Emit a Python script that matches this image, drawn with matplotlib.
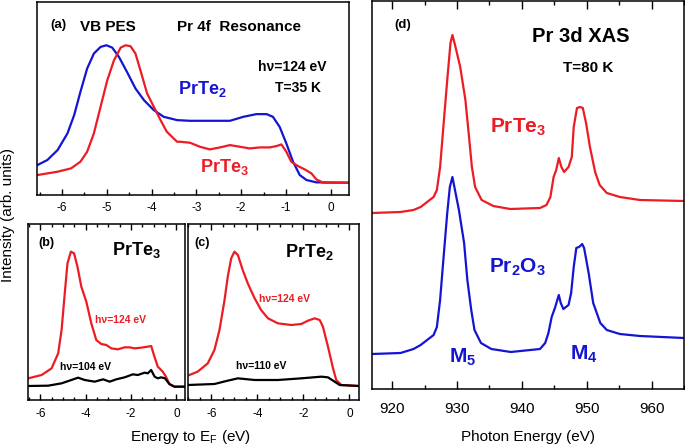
from matplotlib import pyplot as plt
from matplotlib import ticker

RED = "#ec1c24"
BLUE = "#1414d2"
FONT = "Liberation Sans"

# (a) VB PES, Pr 4f resonance
A_PRTE2_E = [-6.55, -6.33, -6.10, -5.88, -5.73, -5.59, -5.44, -5.29, -5.14, -5.01, -4.88, -4.73, -4.55,
             -4.36, -4.17, -3.95, -3.73, -3.43, -3.14, -2.70, -2.25, -1.95, -1.66, -1.43, -1.29, -1.14,
             -0.99, -0.84, -0.69, -0.54, -0.32, 0.42]
A_PRTE2_I = [90, 105, 135, 185, 240, 310, 380, 425, 445, 450, 443, 415, 370,
             320, 285, 255, 235, 225, 223, 223, 223, 235, 243, 243, 235, 205,
             155, 100, 60, 45, 38, 37]
A_PRTE3_E = [-6.55, -6.10, -5.80, -5.59, -5.44, -5.29, -5.14, -4.99, -4.84, -4.69, -4.58, -4.47, -4.36,
             -4.25, -4.10, -3.95, -3.80, -3.66, -3.43, -3.36, -3.14, -2.92, -2.70, -2.47, -2.25, -2.03,
             -1.81, -1.58, -1.36, -1.21, -1.10, -0.99, -0.88, -0.73, -0.58, -0.43, -0.32, -0.17, 0.42]
A_PRTE3_I = [60, 70, 80, 100, 130, 185, 265, 345, 405, 443, 450, 447, 425,
             375, 305, 265, 225, 190, 160, 160, 157, 145, 137, 143, 150, 145,
             140, 143, 143, 147, 152, 130, 100, 87, 77, 65, 47, 37, 37]

# (b) PrTe3 at two photon energies
B_124_E = [-6.53, -5.94, -5.50, -5.21, -5.06, -4.92, -4.80, -4.65, -4.51, -4.36, -4.19, -3.97, -3.75,
           -3.53, -3.31, -3.09, -2.87, -2.58, -2.28, -2.06, -1.84, -1.55, -1.26, -1.11, -0.99, -0.82,
           -0.60, -0.46, -0.31, -0.09, 0.35]
B_124_I = [65, 75, 95, 140, 210, 320, 410, 445, 440, 400, 340, 295, 230,
           180, 168, 165, 155, 152, 158, 158, 155, 157, 160, 162, 135, 100,
           85, 70, 48, 40, 40]
B_104_E = [-6.53, -5.65, -5.06, -4.63, -4.33, -4.04, -3.60, -3.23, -2.94, -2.65, -2.28, -1.92, -1.70,
           -1.40, -1.26, -1.11, -0.96, -0.82, -0.67, -0.50, -0.31, -0.09, 0.35]
B_104_I = [42, 43, 50, 60, 67, 60, 55, 62, 55, 62, 68, 77, 75,
           82, 80, 90, 70, 65, 68, 65, 48, 40, 40]

# (c) PrTe2 at two photon energies
C_124_E = [-6.96, -6.60, -6.16, -5.87, -5.65, -5.43, -5.29, -5.14, -5.00, -4.85, -4.64, -4.42, -4.12,
           -3.84, -3.54, -3.11, -2.53, -2.09, -1.80, -1.51, -1.29, -1.15, -0.93, -0.71, -0.57, -0.35,
           0.42]
C_124_I = [75, 85, 110, 150, 210, 300, 370, 425, 445, 435, 390, 350, 305,
           270, 245, 230, 225, 228, 238, 245, 240, 220, 160, 95, 60, 45,
           42]
C_110_E = [-7.02, -5.87, -5.29, -4.85, -4.12, -3.11, -2.09, -1.22, -0.93, -0.64, -0.42, 0.42]
C_110_I = [45, 48, 58, 65, 60, 60, 65, 70, 68, 55, 45, 42]

# (d) Pr 3d XAS
D_PRTE3_E = [916.9, 921.3, 923.3, 924.4, 925.4, 926.4, 926.9, 927.4, 927.9, 928.5, 929.0, 929.3, 929.7,
             930.5, 931.3, 931.8, 932.3, 932.8, 933.8, 935.6, 938.2, 942.8, 943.8, 944.4, 944.9, 945.3,
             945.7, 946.1, 946.5, 947.2, 947.7, 948.0, 948.5, 949.0, 949.4, 949.9, 950.5, 951.3, 952.0,
             953.1, 955.1, 958.2, 965.0]
D_PRTE3_I = [176, 177, 179, 182, 187, 192, 199, 222, 262, 309, 346, 354, 344,
             322, 289, 256, 222, 202, 189, 183, 180, 181, 184, 192, 212, 219,
             231, 222, 217, 222, 232, 262, 281, 282, 281, 266, 242, 217, 204,
             196, 192, 189, 188]
D_PR2O3_E = [916.9, 921.3, 923.3, 924.4, 925.4, 926.4, 926.9, 927.4, 927.9, 928.5, 928.9, 929.3, 929.6,
             930.3, 931.1, 931.6, 932.2, 932.7, 933.7, 935.3, 938.3, 942.8, 943.6, 944.1, 944.6, 945.1,
             945.7, 946.0, 946.4, 947.2, 947.6, 948.0, 948.4, 948.8, 949.0, 949.3, 949.6, 950.3, 951.0,
             952.1, 953.1, 955.1, 958.2, 965.0]
D_PR2O3_I = [35, 36, 40, 44, 49, 54, 62, 89, 129, 176, 202, 212, 202,
             179, 146, 109, 79, 59, 46, 40, 37, 40, 46, 56, 72, 81,
             94, 86, 80, 84, 96, 122, 141, 142, 143, 145, 141, 116, 86,
             66, 59, 55, 53, 51]

plt.rcParams.update({
    "font.family": FONT,
    "mathtext.fontset": "custom",
    "mathtext.rm": FONT,
    "mathtext.bf": FONT + ":bold",
    "axes.linewidth": 1.1,
})

fig = plt.figure(figsize=(6.85, 4.48), dpi=100)
W, H = 685, 448


def add_axes(left, top, right, bottom):
    return fig.add_axes([left / W, 1 - bottom / H, (right - left) / W, (bottom - top) / H])


def style(ax, xlim, ylim, major, minor, size, pad, top=True, big=False):
    ax.set_xlim(*xlim)
    ax.set_ylim(*ylim)
    ax.set_yticks([])
    ax.xaxis.set_major_locator(ticker.MultipleLocator(major))
    ax.xaxis.set_minor_locator(ticker.MultipleLocator(minor))
    ax.tick_params(axis="x", which="both", direction="in", top=top, labelsize=size, pad=pad, width=1)
    ax.tick_params(axis="x", which="major", length=6 if big else 4)
    ax.tick_params(axis="x", which="minor", length=3 if big else 2.5)


def txt(ax, x, y, s, size, color="black", **kw):
    ax.text(x, y, s, fontsize=size, color=color, fontweight="bold", va="center", ha="left", **kw)


LW = 1.6
neg = ticker.FuncFormatter(lambda v, p: f"{v:.0f}" if v >= 0 else f"-{-v:.0f}")

# (a)
ax = add_axes(37, 2, 349, 195)
ax.plot(A_PRTE2_E, A_PRTE2_I, color=BLUE, lw=LW)
ax.plot(A_PRTE3_E, A_PRTE3_I, color=RED, lw=LW)
style(ax, (-6.56, 0.41), (0, 580), 1, 0.5, 8.5, 5, top=False)
ax.xaxis.set_major_formatter(neg)
txt(ax, -6.26, 510, "(a)", 9.5)
txt(ax, -5.59, 505, "VB PES", 11)
txt(ax, -3.44, 505, "Pr 4f  Resonance", 11)
ax.text(-0.85, 385, "h\u03bd=124 eV", fontsize=10, fontweight="bold", ha="center", va="center")
ax.text(-0.73, 323, "T=35 K", fontsize=10, fontweight="bold", ha="center", va="center")
txt(ax, -3.40, 318, r"PrTe$_\mathbf{2}$", 13, BLUE)
txt(ax, -2.92, 85, r"PrTe$_\mathbf{3}$", 13, RED)

# (b)
ax = add_axes(28, 224, 185, 400)
ax.plot(B_124_E, B_124_I, color=RED, lw=LW)
ax.plot(B_104_E, B_104_I, color="black", lw=LW)
style(ax, (-6.54, 0.38), (0, 528), 2, 0.5, 8.5, 6)
ax.xaxis.set_major_formatter(neg)
txt(ax, -6.07, 470, "(b)", 9)
txt(ax, -2.85, 450, r"PrTe$_\mathbf{3}$", 13)
txt(ax, -3.59, 240, "h\u03bd=124 eV", 7.5, RED)
txt(ax, -5.12, 100, "h\u03bd=104 eV", 7.5)

# (c)
ax = add_axes(188, 224, 359, 400)
ax.plot(C_124_E, C_124_I, color=RED, lw=LW)
ax.plot(C_110_E, C_110_I, color="black", lw=LW)
style(ax, (-7.02, 0.42), (0, 528), 2, 0.5, 8.5, 6)
ax.xaxis.set_major_formatter(neg)
txt(ax, -6.73, 470, "(c)", 9)
txt(ax, -2.80, 445, r"PrTe$_\mathbf{2}$", 13)
txt(ax, -3.92, 302, "h\u03bd=124 eV", 7.5, RED)
txt(ax, -4.91, 102, "h\u03bd=110 eV", 7.5)

# (d)
ax = add_axes(372, 1, 684, 389)
ax.plot(D_PRTE3_E, D_PRTE3_I, color=RED, lw=LW)
ax.plot(D_PR2O3_E, D_PR2O3_I, color=BLUE, lw=LW)
style(ax, (916.9, 965.0), (0, 388), 10, 5, 11, 9, big=True)
txt(ax, 920.3, 364, "(d)", 9.5)
txt(ax, 941.5, 352, "Pr 3d XAS", 14.5)
txt(ax, 946.4, 321, "T=80 K", 11)
txt(ax, 935.1, 262, r"PrTe$_\mathbf{3}$", 15, RED)
txt(ax, 934.9, 122, r"Pr$_\mathbf{2}$O$_\mathbf{3}$", 15, BLUE)
txt(ax, 928.7, 32, r"M$_\mathbf{5}$", 15, BLUE)
txt(ax, 947.4, 35, r"M$_\mathbf{4}$", 15, BLUE)

fig.text(528 / W, 1 - 437 / H, "Photon Energy (eV)", fontsize=11, ha="center", va="center")
fig.text(190 / W, 1 - 437 / H, r"Energy to E$_\mathrm{F}$ (eV)", fontsize=11, ha="center", va="center")
fig.text(8 / W, 1 - 215 / H, "Intensity (arb. units)", fontsize=11, ha="center", va="center", rotation=90)

fig.savefig("out.png", dpi=100)
